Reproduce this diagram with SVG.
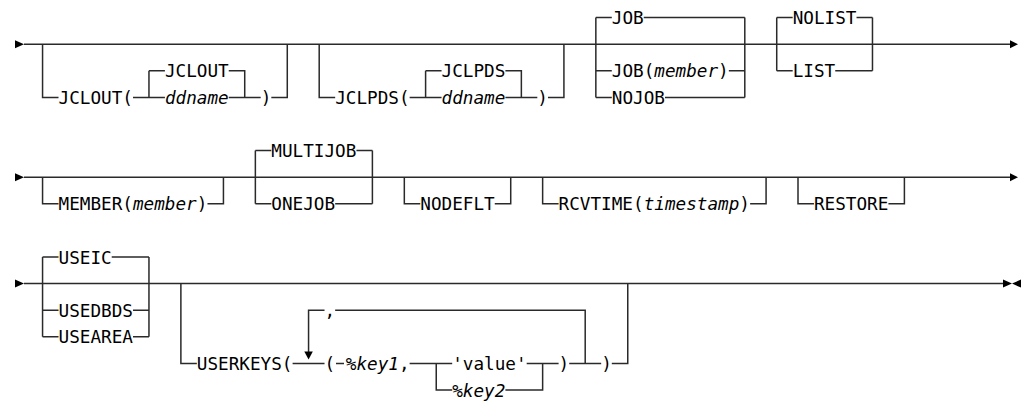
<svg xmlns="http://www.w3.org/2000/svg" width="1023" height="401" viewBox="0 0 1023 401">
<style>
  .ln { fill: none; stroke: #2a2a2a; stroke-width: 1.5; }
  .ar { fill: #000; }
  text { font-family: "DejaVu Sans Mono", "Liberation Mono", monospace; font-size: 17.67px; fill: #000; }
  .it { font-style: italic; }
</style>
<rect width="1023" height="401" fill="#fff"/>
<g id="connectors">
  <path class="ln" d="M24 44.2 H1010"/>
  <path class="ln" d="M42.56 44.2 V97.4 H58.52 M133 97.4 H164.92 M148.96 70.8 V97.4 M148.96 70.8 H164.92 M228.76 70.8 H244.72 V97.4 M228.76 97.4 H260.68 M271.32 97.4 H287.28 V44.2"/>
  <path class="ln" d="M319.2 44.2 V97.4 H335.16 M409.64 97.4 H441.56 M425.6 70.8 V97.4 M425.6 70.8 H441.56 M505.4 70.8 H521.36 V97.4 M505.4 97.4 H537.32 M547.96 97.4 H563.92 V44.2"/>
  <path class="ln" d="M595.84 17.6 V97.4 M744.8 17.6 V97.4 M595.84 17.6 H611.8 M643.72 17.6 H744.8 M595.84 70.8 H611.8 M728.84 70.8 H744.8 M595.84 97.4 H611.8 M665 97.4 H744.8"/>
  <path class="ln" d="M776.72 17.6 V70.8 M872.48 17.6 V70.8 M776.72 17.6 H792.68 M856.52 17.6 H872.48 M776.72 70.8 H792.68 M835.24 70.8 H872.48"/>
  <path class="ln" d="M24 177.2 H1010"/>
  <path class="ln" d="M42.56 177.2 V203.8 H58.52 M207.48 203.8 H223.44 V177.2"/>
  <path class="ln" d="M255.36 150.6 V203.8 M372.4 150.6 V203.8 M255.36 150.6 H271.32 M356.44 150.6 H372.4 M255.36 203.8 H271.32 M335.16 203.8 H372.4"/>
  <path class="ln" d="M404.32 177.2 V203.8 H420.28 M494.76 203.8 H510.72 V177.2"/>
  <path class="ln" d="M542.64 177.2 V203.8 H558.6 M750.12 203.8 H766.08 V177.2"/>
  <path class="ln" d="M798 177.2 V203.8 H813.96 M888.44 203.8 H904.4 V177.2"/>
  <path class="ln" d="M24 283.6 H1003"/>
  <path class="ln" d="M42.56 257 V336.8 M148.96 257 V336.8 M42.56 257 H58.52 M111.72 257 H148.96 M42.56 310.2 H58.52 M133 310.2 H148.96 M42.56 336.8 H58.52 M133 336.8 H148.96"/>
  <path class="ln" d="M180.88 283.6 V363.4 H196.84 M292.6 363.4 H324.52 M336 363.4 H344 M409.64 363.4 H452.2 M436.24 363.4 V390 H452.2 M505.4 390 H542.64 V363.4 M526.68 363.4 H558.6 M569.24 363.4 H601.16 M611.8 363.4 H627.76 V283.6"/>
  <path class="ln" d="M308.56 352 V310.2 H324.52 M335.16 310.2 H585.2 V363.4"/>
  <polygon class="ar" points="304.3,351.5 312.8,351.5 308.56,359.5"/>
  <polygon class="ar" points="15,40.2 24,44.2 15,48.2"/>
  <polygon class="ar" points="1010,40.2 1018,44.2 1010,48.2"/>
  <polygon class="ar" points="15,173.2 24,177.2 15,181.2"/>
  <polygon class="ar" points="1010,173.2 1018,177.2 1010,181.2"/>
  <polygon class="ar" points="15,279.6 24,283.6 15,287.6"/>
  <polygon class="ar" points="1003,279.6 1012,283.6 1003,287.6"/>
  <polygon class="ar" points="1021,279.6 1012,283.6 1021,287.6"/>
</g>
<g id="jclout"><text x="58.52" y="103.9">JCLOUT(</text><text x="164.92" y="77.3">JCLOUT</text><text class="it" x="164.92" y="103.9">ddname</text><text x="260.68" y="103.9">)</text></g>
<g id="jclpds"><text x="335.16" y="103.9">JCLPDS(</text><text x="441.56" y="77.3">JCLPDS</text><text class="it" x="441.56" y="103.9">ddname</text><text x="537.32" y="103.9">)</text></g>
<g id="job"><text x="611.8" y="24.1">JOB</text><text x="611.8" y="77.3">JOB(<tspan class="it">member</tspan>)</text><text x="611.8" y="103.9">NOJOB</text></g>
<g id="list"><text x="792.68" y="24.1">NOLIST</text><text x="792.68" y="77.3">LIST</text></g>
<g id="member"><text x="58.52" y="210.3">MEMBER(<tspan class="it">member</tspan>)</text></g>
<g id="multijob"><text x="271.32" y="157.1">MULTIJOB</text><text x="271.32" y="210.3">ONEJOB</text></g>
<g id="nodeflt"><text x="420.28" y="210.3">NODEFLT</text></g>
<g id="rcvtime"><text x="558.6" y="210.3">RCVTIME(<tspan class="it">timestamp</tspan>)</text></g>
<g id="restore"><text x="813.96" y="210.3">RESTORE</text></g>
<g id="useic"><text x="58.52" y="263.5">USEIC</text><text x="58.52" y="316.7">USEDBDS</text><text x="58.52" y="343.3">USEAREA</text></g>
<g id="userkeys"><text x="196.84" y="369.9">USERKEYS(</text><text x="324.52" y="316.7">,</text><text x="324.52" y="369.9">(</text><text x="345.8" y="369.9"><tspan class="it">%key1</tspan>,</text><text x="452.2" y="369.9">'value'</text><text class="it" x="452.2" y="396.5">%key2</text><text x="558.6" y="369.9">)</text><text x="601.16" y="369.9">)</text></g>
</svg>
